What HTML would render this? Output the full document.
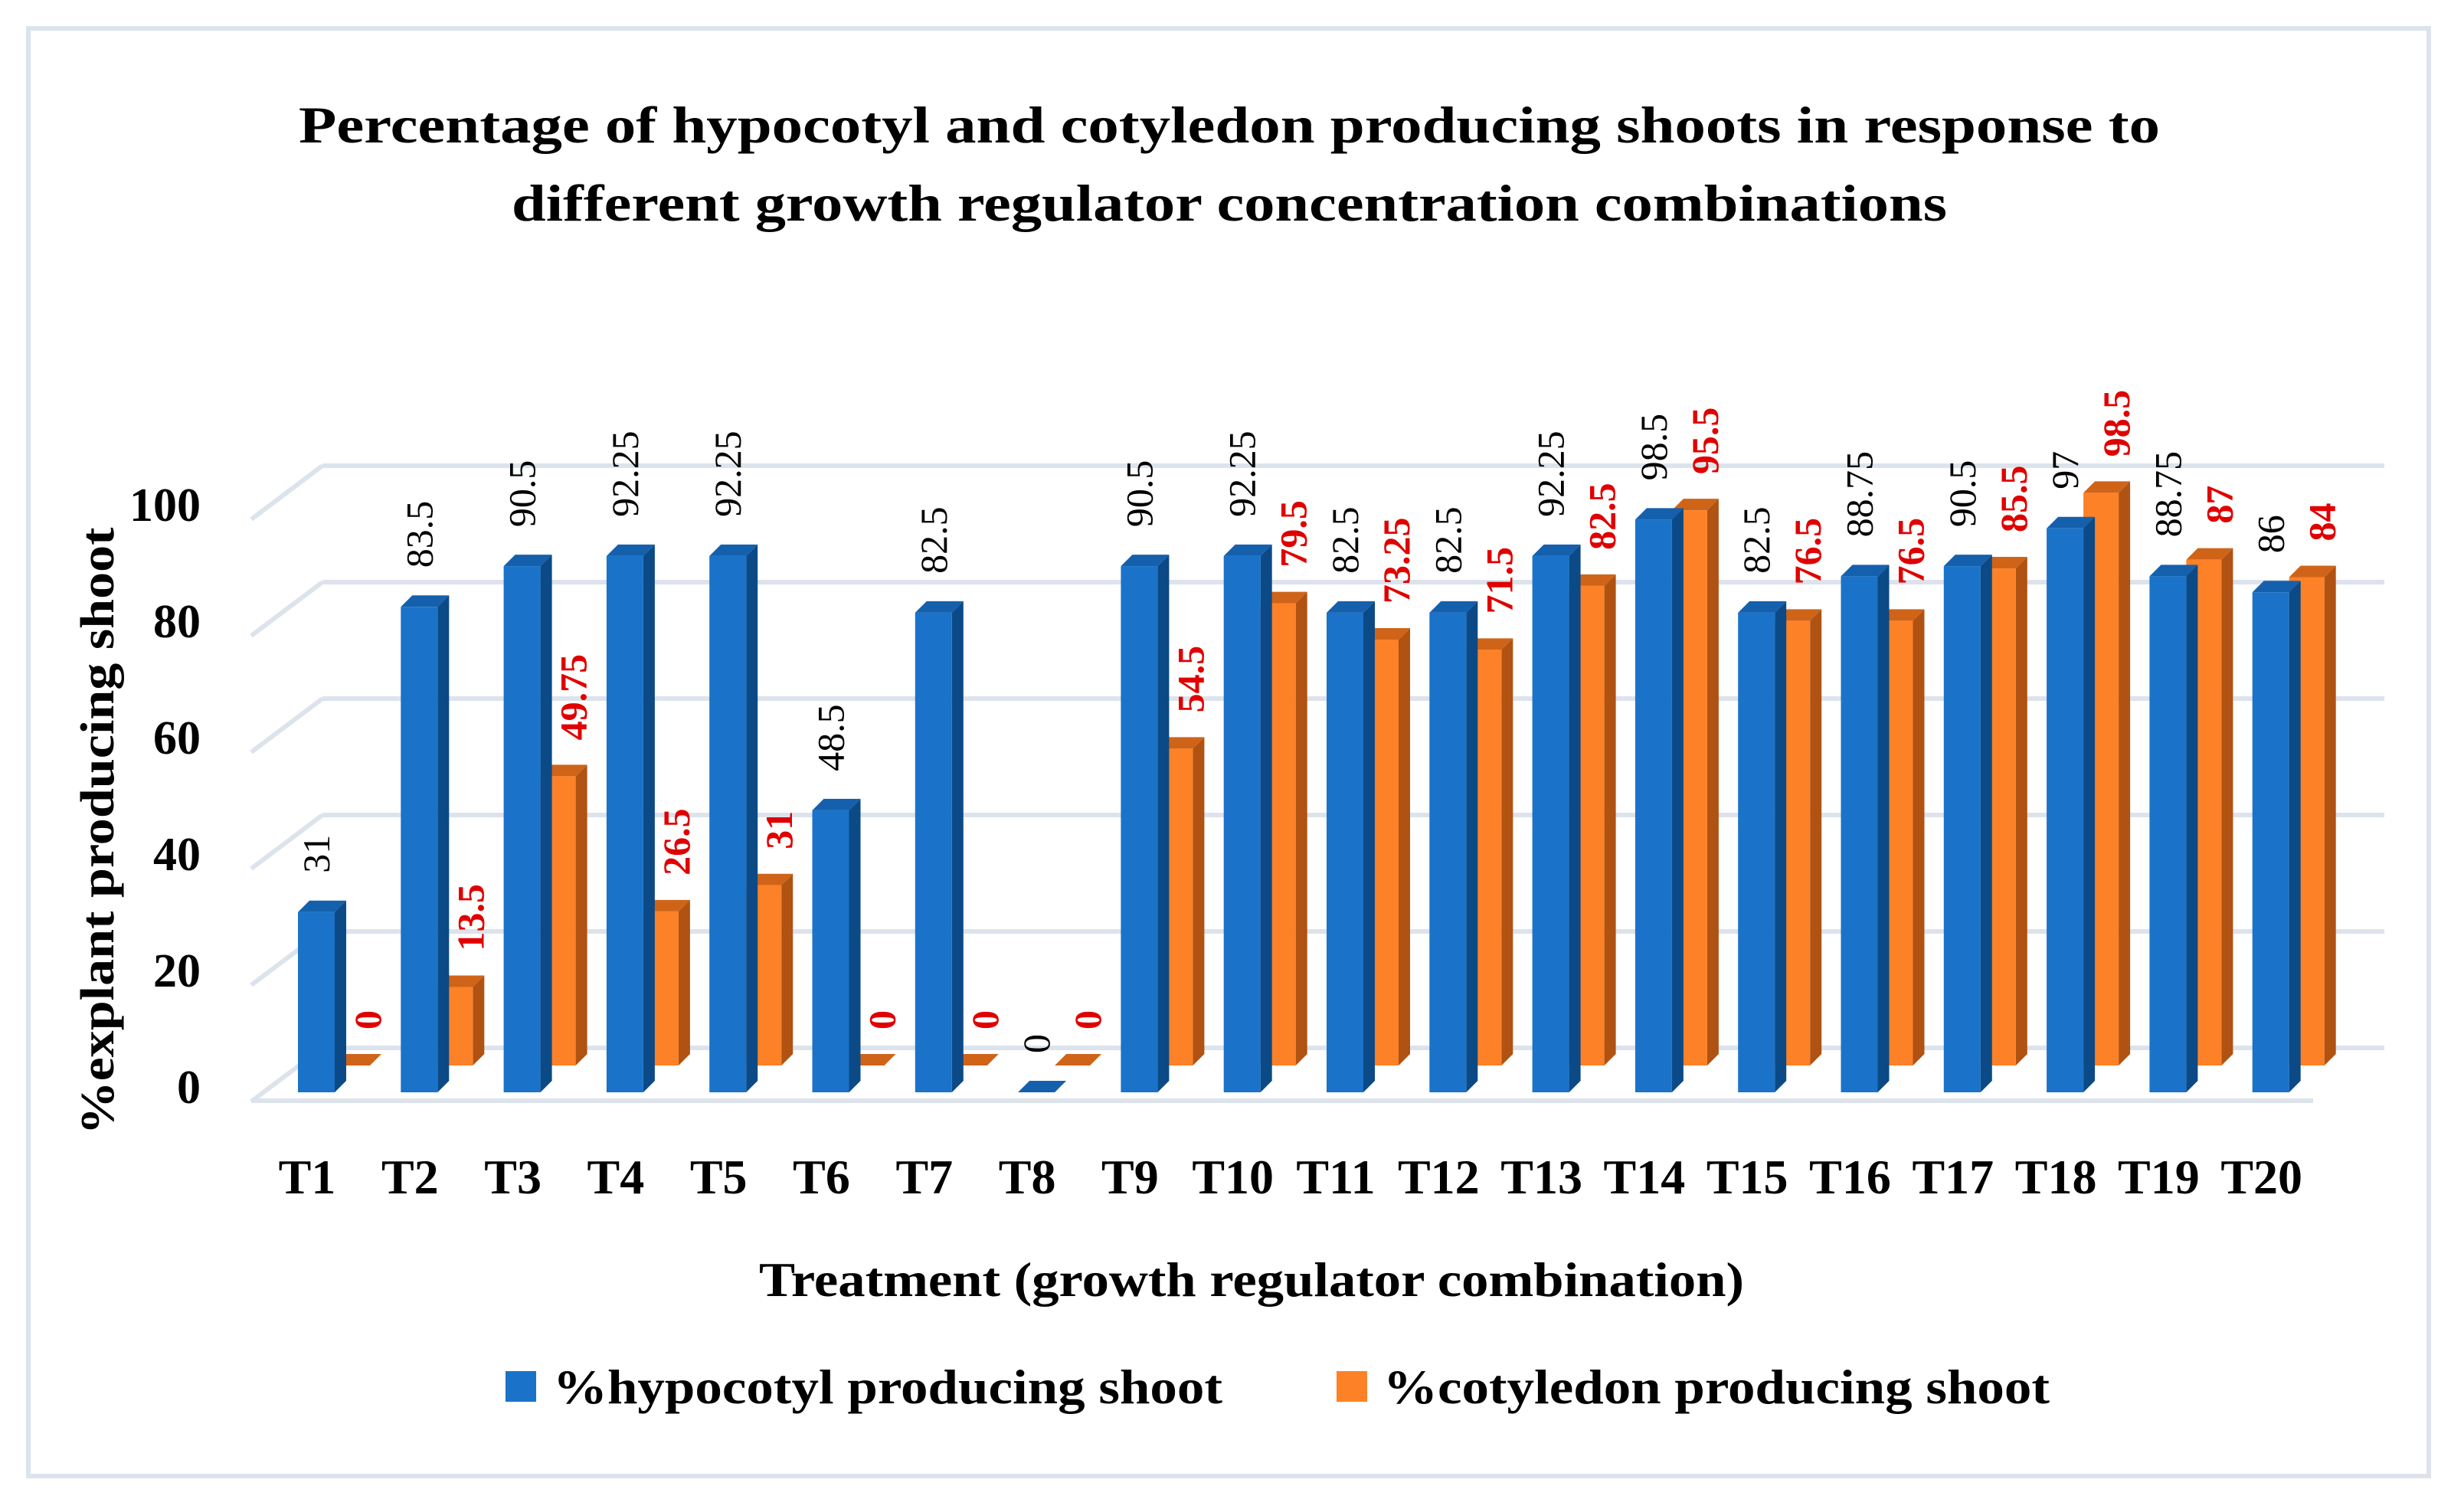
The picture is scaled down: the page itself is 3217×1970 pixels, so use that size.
<!DOCTYPE html>
<html><head><meta charset="utf-8"><style>
body{margin:0;background:#fff}
svg{display:block}
text{font-family:"Liberation Serif",serif}
</style></head><body>
<svg id="chart" width="3217" height="1970" viewBox="0 0 3217 1970" xmlns="http://www.w3.org/2000/svg">
<rect x="37" y="37" width="3134" height="1890" fill="#fff" stroke="#dce3ec" stroke-width="6"/>
<text x="1605" y="186" font-size="68" font-weight="bold" text-anchor="middle" textLength="2430" lengthAdjust="spacingAndGlyphs">Percentage of hypocotyl and cotyledon producing shoots in response to</text>
<text x="1605" y="288" font-size="68" font-weight="bold" text-anchor="middle" textLength="1874" lengthAdjust="spacingAndGlyphs">different growth regulator concentration combinations</text>
<g id="grid"></g>
<g id="ticks"></g>
<g id="bars"></g>
<g id="labels"></g>
<g id="xlabels"></g>
<text transform="translate(148,1085) rotate(-90)" font-size="62" font-weight="bold" text-anchor="middle" textLength="793" lengthAdjust="spacingAndGlyphs">%explant producing shoot</text>
<text x="1634" y="1692" font-size="64" font-weight="bold" text-anchor="middle" textLength="1286" lengthAdjust="spacingAndGlyphs">Treatment (growth regulator combination)</text>
<g>
<rect x="660" y="1790" width="40" height="40" fill="#1a73c9"/>
<text x="722" y="1832" font-size="64" font-weight="bold" textLength="874" lengthAdjust="spacingAndGlyphs">%hypocotyl producing shoot</text>
<rect x="1745" y="1790" width="40" height="40" fill="#fd8126"/>
<text x="1806" y="1832" font-size="64" font-weight="bold" textLength="870" lengthAdjust="spacingAndGlyphs">%cotyledon producing shoot</text>
</g>
</svg>
<script>
const categories=["T1","T2","T3","T4","T5","T6","T7","T8","T9","T10","T11","T12","T13","T14","T15","T16","T17","T18","T19","T20"];
const hypocotyl=[31,83.5,90.5,92.25,92.25,48.5,82.5,0,90.5,92.25,82.5,82.5,92.25,98.5,82.5,88.75,90.5,97,88.75,86];
const cotyledon=[0,13.5,49.75,26.5,31,0,0,0,54.5,79.5,73.25,71.5,82.5,95.5,76.5,76.5,85.5,98.5,87,84];
const yTicks=[0,20,40,60,80,100];
const NS="http://www.w3.org/2000/svg";
function mk(tag,attrs,parent,txt){const e=document.createElementNS(NS,tag);for(const k in attrs)e.setAttribute(k,attrs[k]);if(txt!==undefined)e.textContent=txt;parent.appendChild(e);return e;}
const frontBase=1426, backBase=1391, unit=7.59, backGrid0=1368;
function yFront(v){return frontBase-v*unit;}
function yBack(v){return backBase-v*unit;}
function xCat(i){return 389+i*134.3;}
const grid=document.getElementById('grid'), ticks=document.getElementById('ticks'), bars=document.getElementById('bars'), labels=document.getElementById('labels'), xl=document.getElementById('xlabels');
yTicks.forEach((t)=>{
  const yb=backGrid0-t*7.6, yf=yb+70;
  const g=mk('g',{},grid);
  
  
  mk('line',{x1:328,y1:yf,x2:421,y2:yb,stroke:'#dce3ec','stroke-width':6},g);
  mk('line',{x1:421,y1:yb,x2:3113,y2:yb,stroke:'#dce3ec','stroke-width':6},g);
  const tx=mk('text',{x:262,y:yf+2,'font-size':62,'font-weight':'bold','text-anchor':'end'},ticks,String(t));
  
  
});
const floor=mk('line',{x1:328,y1:1437,x2:3020,y2:1437,stroke:'#dce3ec','stroke-width':6},grid);


function bar3d(x,w,yTop,yBot,d,cF,cS,cT,name){
  const g=mk('g',{},bars);
  
  
  mk('polygon',{points:`${x+w},${yTop} ${x+w+d},${yTop-d} ${x+w+d},${yBot-d} ${x+w},${yBot}`,fill:cS},g);
  mk('polygon',{points:`${x},${yTop} ${x+d},${yTop-d} ${x+w+d},${yTop-d} ${x+w},${yTop}`,fill:cT},g);
  mk('rect',{x:x,y:yTop,width:w,height:Math.max(0,yBot-yTop),fill:cF},g);
}
function vlabel(cx,yb,txt,color,bold,name){
  const t=mk('text',{transform:`translate(${cx+17},${yb}) rotate(-90)`,'font-size':50,fill:color,'font-weight':bold?'bold':'normal'},labels,txt);
  
  
}
categories.forEach((c,i)=>{
  const x=xCat(i);
  const yo=yBack(cotyledon[i]);
  bar3d(x+48,46,yo,backBase,15,'#fd8126','#b05212','#cf6418','bar-cotyledon-'+c);
  vlabel(x+91,yo-47,String(cotyledon[i]),'#e00000',true,'label-cotyledon-'+c);
});
categories.forEach((c,i)=>{
  const x=xCat(i);
  const yb=yFront(hypocotyl[i]);
  bar3d(x,48,yb,frontBase,15,'#1a73c9','#0b4a86','#1560ad','bar-hypocotyl-'+c);
  vlabel(x+24,yb-51,String(hypocotyl[i]),'#000',false,'label-hypocotyl-'+c);
  const t=mk('text',{x:x+12,y:1558,'font-size':64,'font-weight':'bold','text-anchor':'middle'},xl,c);
  
  
});
</script>
</body></html>
